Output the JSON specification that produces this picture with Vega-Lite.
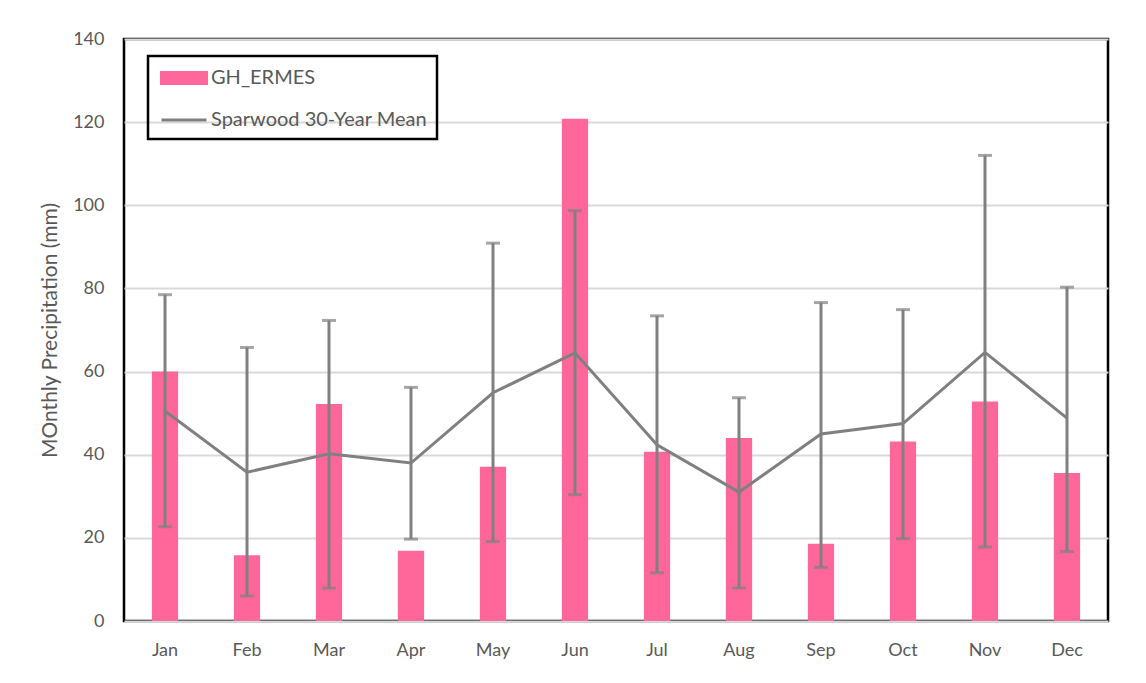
{
  "$schema": "https://vega.github.io/schema/vega-lite/v6.json",
  "autosize": {"type": "none"},
  "width": 984,
  "height": 582,
  "padding": {"left": 124, "top": 39, "right": 38, "bottom": 62},
  "background": "white",
  "config": {
    "font": "Lato",
    "view": {"stroke": "black", "strokeWidth": 2.5},
    "axis": {"labelFont": "Lato", "titleFont": "Lato", "labelColor": "#595959", "titleColor": "#595959"}
  },
  "data": {
    "values": [
      {"month": "Jan", "gh": 60, "mean": 50.5, "lo": 22.7, "hi": 78.5},
      {"month": "Feb", "gh": 15.8, "mean": 35.8, "lo": 6, "hi": 65.8},
      {"month": "Mar", "gh": 52.2, "mean": 40.2, "lo": 7.9, "hi": 72.3},
      {"month": "Apr", "gh": 16.9, "mean": 38, "lo": 19.7, "hi": 56.2},
      {"month": "May", "gh": 37.1, "mean": 54.9, "lo": 19.1, "hi": 90.9},
      {"month": "Jun", "gh": 120.8, "mean": 64.5, "lo": 30.4, "hi": 98.7},
      {"month": "Jul", "gh": 40.7, "mean": 42.4, "lo": 11.6, "hi": 73.4},
      {"month": "Aug", "gh": 44, "mean": 31, "lo": 7.9, "hi": 53.7},
      {"month": "Sep", "gh": 18.6, "mean": 45, "lo": 12.9, "hi": 76.6},
      {"month": "Oct", "gh": 43.2, "mean": 47.5, "lo": 19.8, "hi": 74.9},
      {"month": "Nov", "gh": 52.8, "mean": 64.6, "lo": 17.8, "hi": 112},
      {"month": "Dec", "gh": 35.6, "mean": 48.8, "lo": 16.7, "hi": 80.3}
    ]
  },
  "encoding": {
    "x": {
      "field": "month", "type": "nominal", "sort": null,
      "scale": {"paddingInner": 0, "paddingOuter": 0},
      "axis": {"title": null, "labelAngle": 0, "labelFontSize": 18, "labelPadding": 20, "ticks": false, "domain": false, "grid": false}
    }
  },
  "layer": [
    {
      "mark": {"type": "bar", "width": {"band": 0.32}},
      "encoding": {
        "y": {
          "field": "gh", "type": "quantitative",
          "scale": {"domain": [0, 140], "nice": false},
          "axis": {
            "title": "MOnthly Precipitation (mm)", "titleFontSize": 21, "titleFontWeight": "normal",
            "titleX": -74, "titleY": 291, "titleAngle": -90, "titleBaseline": "middle", "titleAlign": "center",
            "values": [0, 20, 40, 60, 80, 100, 120, 140],
            "labelFontSize": 18, "labelPadding": 20, "ticks": false, "domain": false,
            "grid": true, "gridColor": "#d9d9d9", "gridWidth": 2
          }
        },
        "color": {
          "datum": "GH_ERMES",
          "scale": {"domain": ["GH_ERMES", "Sparwood 30-Year Mean"], "range": ["#ff6699", "#808080"]},
          "legend": {
            "title": null, "orient": "none", "legendX": 24, "legendY": 17,
            "strokeColor": "black", "padding": 9,
            "labelFontSize": 20, "labelColor": "#595959", "labelFont": "Lato", "labelLimit": 0,
            "symbolSize": 506, "rowPadding": 17, "labelOffset": 14, "symbolOffset": 14,
            "encode": {
              "legend": {"update": {"strokeWidth": {"value": 2.5}}},
              "symbols": {
                "update": {
                  "shape": {"signal": "datum.value === 'GH_ERMES' ? 'M-2,-0.5H2V0.5H-2Z' : 'M-2,0H2'"},
                  "fill": {"signal": "datum.value === 'GH_ERMES' ? '#ff6699' : 'transparent'"},
                  "stroke": {"signal": "datum.value === 'GH_ERMES' ? 'transparent' : '#808080'"},
                  "strokeWidth": {"value": 3},
                  "opacity": {"value": 1}
                }
              }
            }
          }
        }
      }
    },
    {
      "mark": {"type": "line", "strokeWidth": 3},
      "encoding": {
        "y": {"field": "mean", "type": "quantitative"},
        "color": {"datum": "Sparwood 30-Year Mean"}
      }
    },
    {
      "mark": {"type": "rule", "strokeWidth": 3, "color": "#808080"},
      "encoding": {
        "y": {"field": "lo", "type": "quantitative"},
        "y2": {"field": "hi"}
      }
    },
    {
      "mark": {"type": "tick", "color": "#808080", "size": 14, "thickness": 3, "orient": "horizontal"},
      "encoding": {"y": {"field": "lo", "type": "quantitative"}}
    },
    {
      "mark": {"type": "tick", "color": "#808080", "size": 14, "thickness": 3, "orient": "horizontal"},
      "encoding": {"y": {"field": "hi", "type": "quantitative"}}
    }
  ]
}
